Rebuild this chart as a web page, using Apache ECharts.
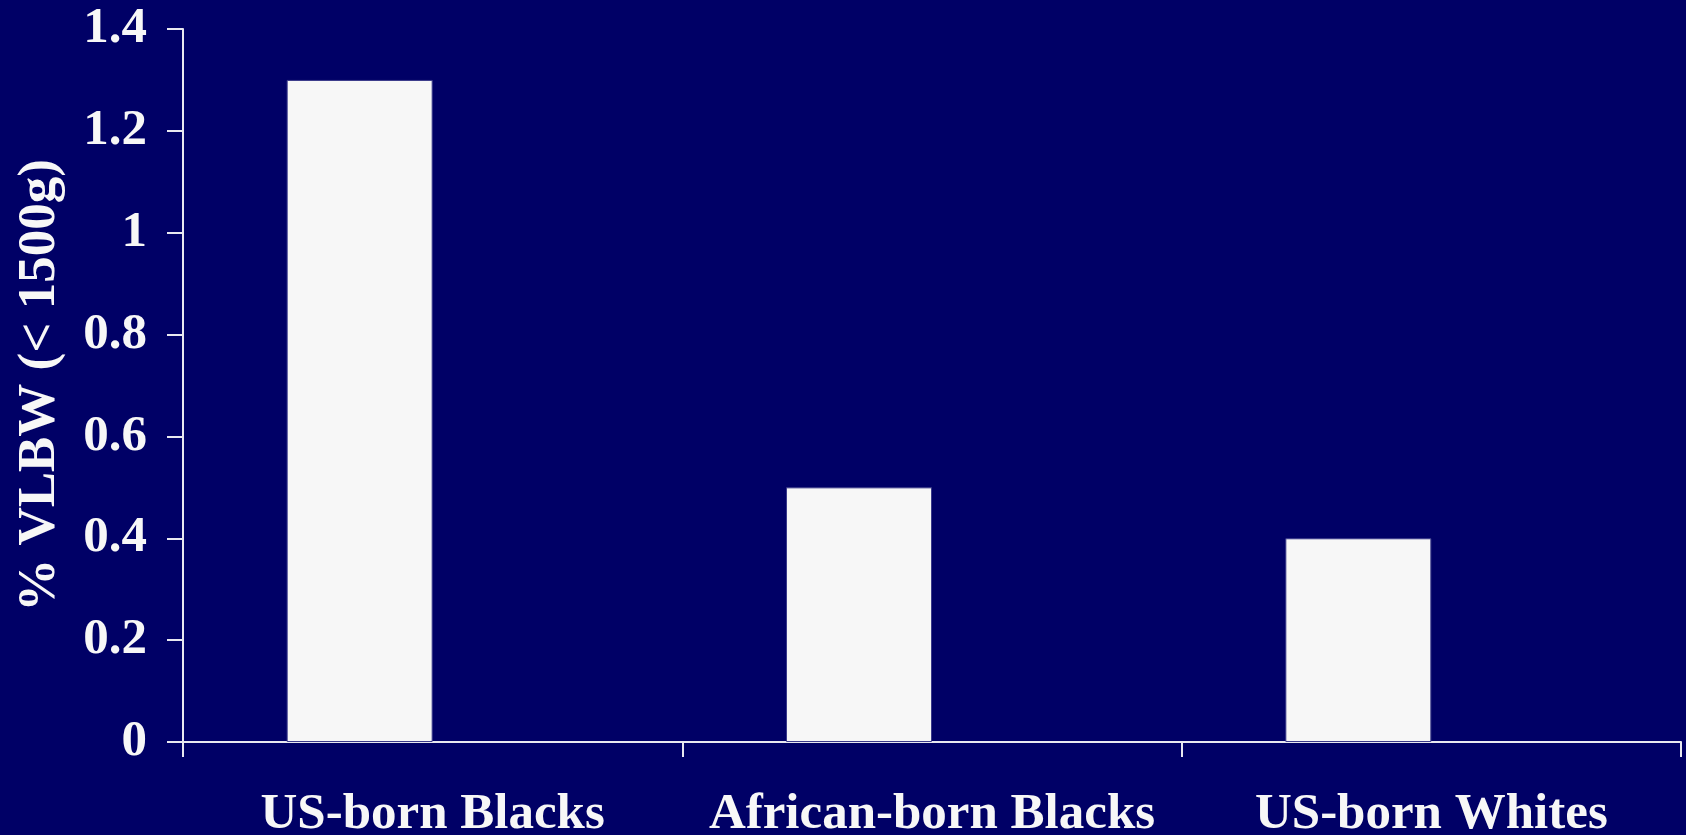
<!DOCTYPE html>
<html>
<head>
<meta charset="utf-8">
<title>% VLBW (< 1500g)</title>
<script src="https://cdn.jsdelivr.net/npm/echarts@6/dist/echarts.min.js"></script>
<style>
  html, body { margin: 0; padding: 0; background: #000066; }
  #chart { width: 1686px; height: 835px; }
</style>
</head>
<body>
<div id="chart"></div>
<script>
// Groups and their share of very-low-birth-weight births (%)
const categories = ['US-born Blacks', 'African-born Blacks', 'US-born Whites'];
const vlbwPercent = [1.3, 0.5, 0.4];
// Empty companion slot so each bar sits left of its category centre
const spacer = [null, null, null];

const FONT = '"Liberation Serif", "Times New Roman", serif';
const TEXT = '#f7f7f7';

const chart = echarts.init(document.getElementById('chart'), null, { renderer: 'canvas' });

chart.setOption({
  backgroundColor: '#000066',
  animation: false,
  grid: {
    left: 183, right: 5, top: 29, bottom: 93,
    containLabel: false,
    outerBoundsMode: 'none'
  },
  xAxis: {
    type: 'category',
    data: categories,
    boundaryGap: true,
    axisLine: { lineStyle: { color: '#e8e8f0', width: 2 } },
    axisTick: { show: true, interval: 0, length: 15, lineStyle: { color: '#e8e8f0', width: 2 } },
    axisLabel: {
      interval: 0,
      margin: 47,
      color: TEXT,
      fontFamily: FONT,
      fontWeight: 'bold',
      fontSize: 51
    },
    splitLine: { show: false }
  },
  yAxis: {
    type: 'value',
    min: 0,
    max: 1.4,
    interval: 0.2,
    name: '% VLBW (< 1500g)',
    nameLocation: 'middle',
    nameGap: 116,
    nameRotate: 90,
    nameTextStyle: {
      color: TEXT,
      fontFamily: FONT,
      fontWeight: 'bold',
      fontSize: 53
    },
    axisLine: { show: true, lineStyle: { color: '#e8e8f0', width: 2 } },
    axisTick: { show: true, length: 16, lineStyle: { color: '#e8e8f0', width: 2 } },
    axisLabel: {
      margin: 36,
      color: TEXT,
      fontFamily: FONT,
      fontWeight: 'bold',
      fontSize: 51
    },
    splitLine: { show: false }
  },
  series: [
    {
      type: 'bar',
      data: vlbwPercent,
      barWidth: 146,
      barGap: 0,
      itemStyle: { color: '#f7f7f7', borderColor: '#3a3a8a', borderWidth: 1 }
    },
    {
      type: 'bar',
      data: spacer,
      barWidth: 146,
      barGap: 0,
      silent: true,
      itemStyle: { color: 'transparent' }
    }
  ]
});
</script>
</body>
</html>
